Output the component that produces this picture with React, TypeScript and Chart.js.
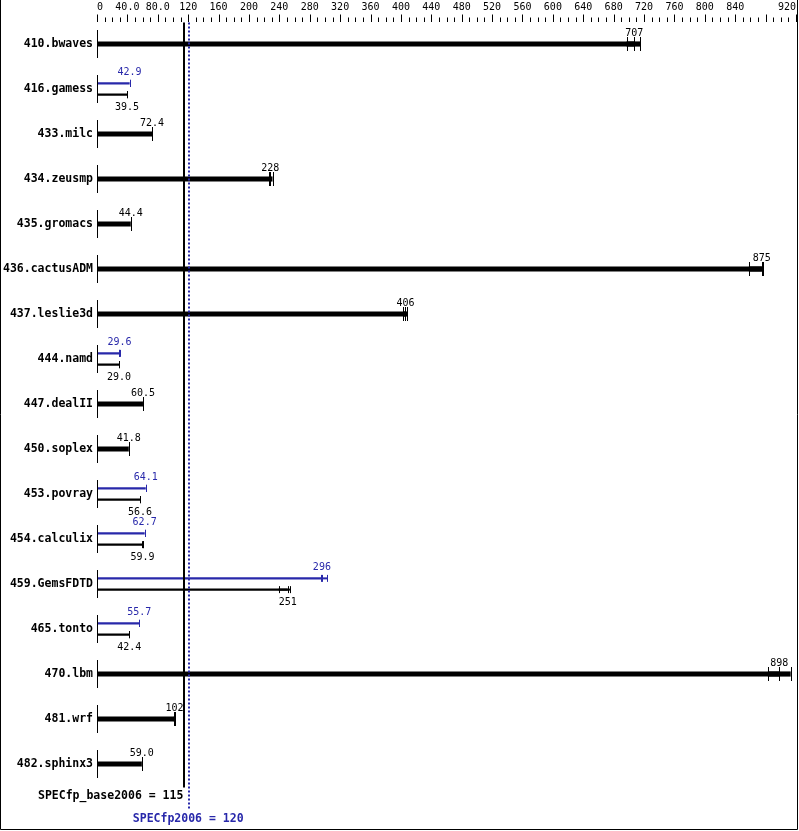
import { useEffect, useRef } from 'react';
import { Chart, registerables } from 'chart.js';

Chart.register(...registerables);

const benchmarks = [
  '410.bwaves', '416.gamess', '433.milc', '434.zeusmp', '435.gromacs', '436.cactusADM',
  '437.leslie3d', '444.namd', '447.dealII', '450.soplex', '453.povray', '454.calculix',
  '459.GemsFDTD', '465.tonto', '470.lbm', '481.wrf', '482.sphinx3',
];

const baseScores = [707, 39.5, 72.4, 228, 44.4, 875, 406, 29.0, 60.5, 41.8, 56.6, 59.9, 251, 42.4, 898, 102, 59.0];
const peakScores: (number | null)[] = [null, 42.9, null, null, null, null, null, 29.6, null, null, 64.1, 62.7, 296, 55.7, null, null, null];

const baseRuns = [
  [697, 707, 715], [39.4, 39.5, 39.6], [72.3, 72.4, 72.5], [227, 228, 231], [44.3, 44.4, 44.5],
  [858, 875, 877], [403, 406, 408], [29.0, 29.0, 29.1], [60.4, 60.5, 60.6], [41.7, 41.8, 41.9],
  [56.5, 56.6, 56.7], [59.8, 59.9, 60.0], [239, 251, 254], [42.3, 42.4, 42.5], [883, 898, 913],
  [101, 102, 103], [58.9, 59.0, 59.1],
];
const peakRuns: (number[] | null)[] = [
  null, [42.8, 42.9, 43.0], null, null, null, null, null, [29.5, 29.6, 29.7], null, null,
  [64.0, 64.1, 64.2], [62.6, 62.7, 62.8], [295, 296, 303], [55.6, 55.7, 55.8], null, null, null,
];

const xTickValues = [0, 40, 80, 120, 160, 200, 240, 280, 320, 360, 400, 440, 480, 520, 560, 600, 640, 680, 720, 760, 800, 840, 880, 920];
const xTickLabels = ['0', '40.0', '80.0', '120', '160', '200', '240', '280', '320', '360', '400', '440', '480', '520', '560', '600', '640', '680', '720', '760', '800', '840', '', '920'];

const baseMean = 115;
const peakMean = 120;
const baseMeanLabel = 'SPECfp_base2006 = 115';
const peakMeanLabel = 'SPECfp2006 = 120';

const BLUE = 'rgb(40,40,170)';
const MONO = '"DejaVu Sans Mono", monospace';

const singleBase = baseScores.map((v, i) => (peakScores[i] == null ? v : null));
const dualBase = baseScores.map((v, i) => (peakScores[i] == null ? null : v));

const specPlugin = {
  id: 'specDecor',
  afterDatasetsDraw(chart: any) {
    const { ctx, chartArea, scales } = chart;
    const xs = scales.x;
    const ys = scales.y;
    ctx.save();

    // minor / major ticks on top axis
    ctx.strokeStyle = '#000';
    ctx.lineWidth = 1;
    for (let v = 0; v <= 920; v += 10) {
      const px = Math.round(xs.getPixelForValue(v)) + 0.5;
      const major = v % 40 === 0;
      ctx.beginPath();
      ctx.moveTo(px, chartArea.top - (major ? 7 : 4));
      ctx.lineTo(px, chartArea.top + 0.5);
      ctx.stroke();
    }

    // left axis segments per row
    const x0 = Math.floor(xs.getPixelForValue(0)) + 0.5;
    benchmarks.forEach((_, i) => {
      const cy = ys.getPixelForValue(i);
      ctx.beginPath();
      ctx.moveTo(x0, cy - 14);
      ctx.lineTo(x0, cy + 14);
      ctx.stroke();
    });

    // runs: connectors and ticks
    const drawRuns = (dsIndex: number, runsFor: (i: number) => number[] | null, color: string) => {
      const meta = chart.getDatasetMeta(dsIndex);
      meta.data.forEach((el: any, i: number) => {
        const runs = runsFor(i);
        if (!runs || chart.data.datasets[dsIndex].data[i] == null) return;
        const h = el.height;
        const half = h > 3 ? 7 : 3.5;
        const xmin = xs.getPixelForValue(Math.min(...runs));
        const xmax = xs.getPixelForValue(Math.max(...runs));
        ctx.fillStyle = color;
        ctx.fillRect(xmin, el.y - h / 2, xmax - xmin, h);
        ctx.strokeStyle = color;
        ctx.lineWidth = 1;
        runs.forEach((r) => {
          const px = Math.round(xs.getPixelForValue(r)) + 0.5;
          ctx.beginPath();
          ctx.moveTo(px, el.y - half);
          ctx.lineTo(px, el.y + half);
          ctx.stroke();
        });
      });
    };
    drawRuns(0, (i) => baseRuns[i], '#000');
    drawRuns(1, (i) => peakRuns[i], BLUE);
    drawRuns(2, (i) => baseRuns[i], '#000');

    // value labels
    ctx.font = `10px ${MONO}`;
    ctx.textAlign = 'center';
    ctx.textBaseline = 'middle';
    const m0 = chart.getDatasetMeta(0);
    const m1 = chart.getDatasetMeta(1);
    const m2 = chart.getDatasetMeta(2);
    benchmarks.forEach((_, i) => {
      if (peakScores[i] == null) {
        const el = m0.data[i];
        ctx.fillStyle = '#000';
        ctx.fillText(baseScores[i].toPrecision(3), xs.getPixelForValue(baseScores[i]), el.y - 10.5);
      } else {
        const pe = m1.data[i];
        const be = m2.data[i];
        ctx.fillStyle = BLUE;
        ctx.fillText((peakScores[i] as number).toPrecision(3), xs.getPixelForValue(peakScores[i] as number), pe.y - 10.5);
        ctx.fillStyle = '#000';
        ctx.fillText(baseScores[i].toPrecision(3), xs.getPixelForValue(baseScores[i]), be.y + 12.5);
      }
    });

    // mean lines
    const bx = xs.getPixelForValue(baseMean);
    ctx.strokeStyle = '#000';
    ctx.lineWidth = 2;
    ctx.beginPath();
    ctx.moveTo(Math.round(bx), chartArea.top + 1);
    ctx.lineTo(Math.round(bx), chartArea.bottom + 1);
    ctx.stroke();

    const px = xs.getPixelForValue(peakMean);
    ctx.strokeStyle = BLUE;
    ctx.setLineDash([2, 2]);
    ctx.beginPath();
    ctx.moveTo(Math.round(px) + 1, chartArea.top + 1);
    ctx.lineTo(Math.round(px) + 1, chartArea.bottom + 23);
    ctx.stroke();
    ctx.setLineDash([]);

    // summary labels
    ctx.font = `bold 11.5px ${MONO}`;
    ctx.fillStyle = '#000';
    ctx.textAlign = 'right';
    ctx.fillText(baseMeanLabel, bx - 1, chartArea.bottom + 9.5);
    ctx.fillStyle = BLUE;
    ctx.textAlign = 'center';
    ctx.fillText(peakMeanLabel, px, chartArea.bottom + 32.5);

    // frame
    ctx.strokeStyle = '#000';
    ctx.lineWidth = 1;
    ctx.beginPath();
    ctx.moveTo(0.5, 0);
    ctx.lineTo(0.5, chart.height - 1.5);
    ctx.lineTo(chart.width - 1.5, chart.height - 1.5);
    ctx.lineTo(chart.width - 1.5, 0);
    ctx.stroke();

    ctx.restore();
  },
};

export default function App() {
  const ref = useRef<HTMLCanvasElement | null>(null);

  useEffect(() => {
    document.body.style.margin = '0';
    const canvas = ref.current;
    if (!canvas) return;
    const chart = new Chart(canvas, {
      type: 'bar',
      data: {
        labels: benchmarks,
        datasets: [
          { label: 'base', data: singleBase, backgroundColor: '#000', barPercentage: 0.23, categoryPercentage: 0.5, skipNull: true } as any,
          { label: 'peak', data: peakScores, backgroundColor: BLUE, barPercentage: 0.178, categoryPercentage: 0.5, skipNull: true } as any,
          { label: 'base2', data: dualBase, backgroundColor: '#000', barPercentage: 0.178, categoryPercentage: 0.5, skipNull: true } as any,
        ],
      },
      options: {
        animation: false,
        responsive: false,
        indexAxis: 'y',
        devicePixelRatio: 1,
        layout: { padding: { top: 0, left: 0, right: 3, bottom: 44.5 } },
        plugins: { legend: { display: false }, tooltip: { enabled: false } },
        scales: {
          x: {
            type: 'linear',
            position: 'top',
            min: 0,
            max: 920,
            grid: { display: false, drawTicks: false },
            border: { display: false },
            ticks: {
              stepSize: 40,
              autoSkip: false,
              maxRotation: 0,
              align: 'inner',
              padding: 8,
              color: '#000',
              font: { family: MONO, size: 10 },
              callback: (v: any) => {
                const k = xTickValues.indexOf(Number(v));
                return k >= 0 ? xTickLabels[k] : '';
              },
            },
            afterFit: (s: any) => {
              s.height = 21.5;
              s.paddingLeft = 0;
              s.paddingRight = 0;
            },
          },
          y: {
            type: 'category',
            grid: { display: false, drawTicks: false },
            border: { display: false },
            ticks: {
              autoSkip: false,
              padding: 4,
              color: '#000',
              font: { family: MONO, size: 11.5, weight: 'bold' },
            },
            afterFit: (s: any) => {
              s.width = 97;
            },
          },
        },
      } as any,
      plugins: [specPlugin],
    });
    return () => chart.destroy();
  }, []);

  return (
    <div style={{ width: 799, height: 831, background: '#fff' }}>
      <canvas ref={ref} width={799} height={831} style={{ display: 'block' }} />
    </div>
  );
}
